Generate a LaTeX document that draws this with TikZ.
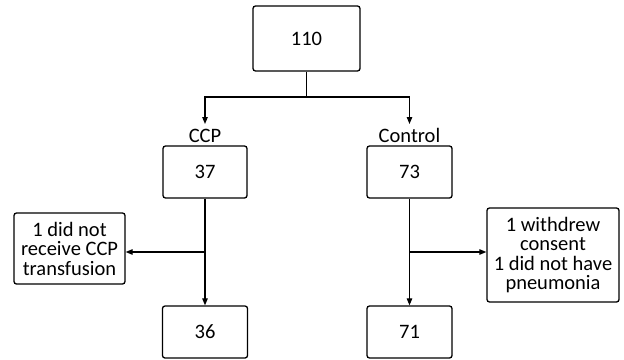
\documentclass[tikz,border=0pt]{standalone}
\usepackage{fontspec}
\setmainfont{Carlito}
\usetikzlibrary{arrows.meta}
\begin{document}
\begin{tikzpicture}[x=1pt,y=-1pt,
  box/.style={draw,line width=1.3pt,rounded corners=2.5pt,align=center,inner sep=1pt,font=\fontsize{20.5}{19.5}\selectfont},
  conn/.style={line width=1.1pt,-{Triangle[length=7pt,width=5.5pt]}},
  lab/.style={font=\fontsize{20.5}{19.5}\selectfont,inner sep=0pt,anchor=base}]
\useasboundingbox (0,0) rectangle (624,359);
\node[box,minimum width=107pt,minimum height=65pt] (top) at (306.5,38.5) {110};
\node[box,minimum width=84pt,minimum height=52pt] (ccp) at (205,172) {37};
\node[box,minimum width=85pt,minimum height=52pt] (ctl) at (409.5,172) {73};
\node[box,minimum width=111pt,minimum height=71pt] (lx) at (69.5,248.5) {1 did not\\receive CCP\\transfusion};
\node[box,minimum width=132pt,minimum height=94pt] (rx) at (553,255) {1 withdrew\\consent\\1 did not have\\pneumonia};
\node[box,minimum width=85pt,minimum height=52pt] (b36) at (205,332) {36};
\node[box,minimum width=85pt,minimum height=52pt] (b71) at (409.5,332) {71};
\node[lab] (lccp) at (205,142) {CCP};
\node[lab] (lctl) at (409.5,142) {Control};
\coordinate (j) at (306.5,97);
\coordinate (jl) at (205,97);
\coordinate (jr) at (409.5,97);
\coordinate (al) at (205,124);
\coordinate (ar) at (409.5,124);
\coordinate (bl) at (205,252);
\coordinate (br) at (409.5,252);
\coordinate (blx) at (lx.east |- bl);
\coordinate (brx) at (rx.west |- br);
\draw[line width=1.1pt] (top.south) -- (j);
\draw[conn] (j) -- (jl) -- (al);
\draw[conn] (j) -- (jr) -- (ar);
\draw[conn] (ccp.south) -- (b36.north);
\draw[conn] (ctl.south) -- (b71.north);
\draw[conn] (bl) -- (blx);
\draw[conn] (br) -- (brx);
\end{tikzpicture}
\end{document}
